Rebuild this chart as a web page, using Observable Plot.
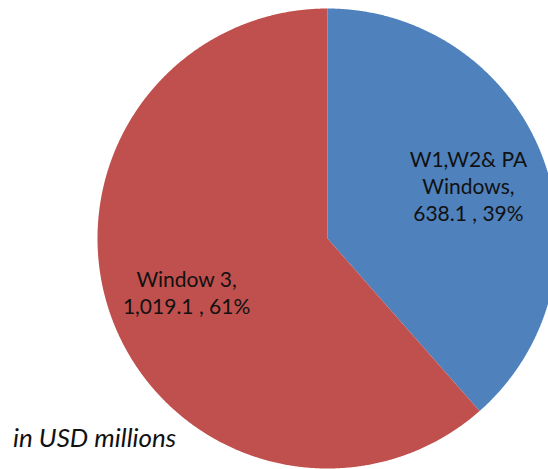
<!DOCTYPE html>
<html>
<head>
<meta charset="utf-8">
<script src="https://cdn.jsdelivr.net/npm/d3@7"></script>
<script src="https://cdn.jsdelivr.net/npm/@observablehq/plot@0.6"></script>
<style>
  html, body { margin: 0; padding: 0; background: #fff; }
  #chart { position: relative; width: 548px; height: 469px; overflow: hidden; }
  #note { position: absolute; left: 13px; top: 424px; line-height: 1; font-family: Lato, sans-serif; font-style: italic; font-size: 26px; color: #111; }
</style>
</head>
<body>
<div id="chart"><div id="note">in USD millions</div></div>
<script>
const categories = ["W1,W2& PA Windows", "Window 3"];
const values = [638.1, 1019.1];
const percents = ["39%", "61%"];
const labelLines = [["W1,W2& PA", "Windows,", "638.1 , 39%"], ["Window 3,", "1,019.1 , 61%"]];
const colors = ["#4F81BD", "#C0504D"];

const W = 548, H = 469;
const cx = 327, cy = 238, R = 230;

const arcs = d3.pie().sort(null).value(d => d.value)(
  categories.map((name, i) => ({name, value: values[i]}))
);

// slice outlines in unit-radius data space
const slices = arcs.map((a, i) => {
  const n = Math.max(2, Math.ceil((a.endAngle - a.startAngle) / 0.005));
  const pts = [{name: a.data.name, x: 0, y: 0}];
  for (let k = 0; k <= n; k++) {
    const t = a.startAngle + (a.endAngle - a.startAngle) * k / n;
    pts.push({name: a.data.name, x: Math.sin(t), y: Math.cos(t)});
  }
  pts.push({name: a.data.name, x: 0, y: 0});
  return pts;
});

const labelR = 0.655;
const labels = arcs.map((a, i) => {
  const m = (a.startAngle + a.endAngle) / 2;
  return {text: labelLines[i].join("\n"), x: labelR * Math.sin(m), y: labelR * Math.cos(m)};
});

const chart = Plot.plot({
  width: W,
  height: H,
  margin: 0,
  x: {domain: [-cx / R, (W - cx) / R], axis: null},
  y: {domain: [-(H - cy) / R, cy / R], axis: null},
  style: {background: "transparent", overflow: "hidden"},
  marks: [
    ...slices.map((pts, i) => Plot.line(pts, {x: "x", y: "y", fill: colors[i], stroke: "none", curve: "linear"})),
    Plot.text(labels, {
      x: "x", y: "y", text: "text",
      fontFamily: "Lato, sans-serif", fontSize: 21, lineHeight: 1.29,
      fill: "#111", textAnchor: "middle"
    })
  ]
});
document.getElementById("chart").prepend(chart);
</script>
</body>
</html>
